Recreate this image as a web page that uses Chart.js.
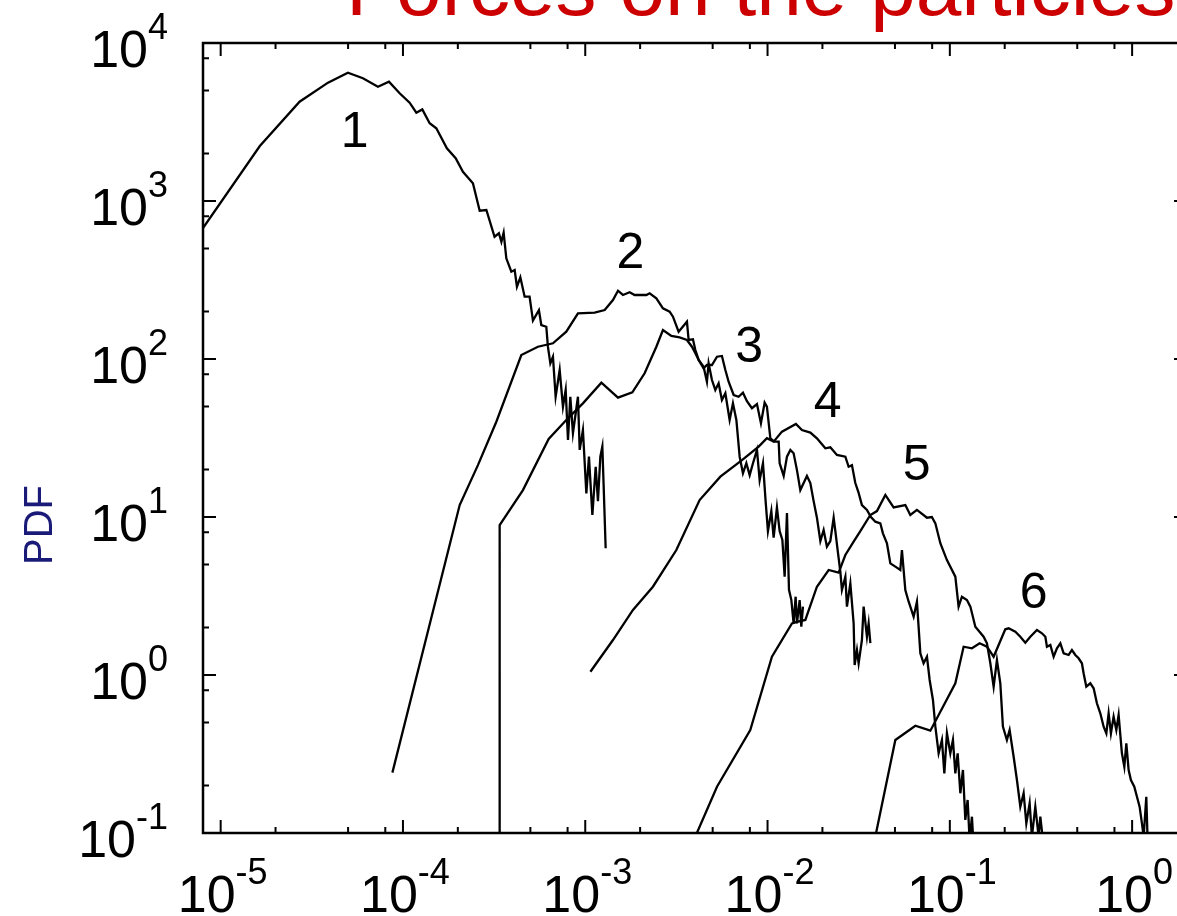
<!DOCTYPE html>
<html>
<head>
<meta charset="utf-8">
<title>Forces on the particles</title>
<script src="https://cdn.jsdelivr.net/npm/chart.js@4.4.1/dist/chart.umd.min.js"></script>
<style>
  html, body { margin: 0; padding: 0; background: #fff; overflow: hidden; }
  #wrap { width: 1177px; height: 916px; overflow: hidden; position: relative; }
  canvas { display: block; }
</style>
</head>
<body>
<div id="wrap"><canvas id="pdfChart" width="1200" height="916"></canvas></div>
<script>
  // ── Data: [force, PDF] pairs, one array per curve ──
  const curve1 = [[8e-6,675],[1.64e-5,2228],[2.71e-5,4251],[3.88e-5,5610],[4.99e-5,6486],[6.03e-5,5984],
    [7.29e-5,5290],[8.38e-5,5690],[9.59e-5,4810],[1.088e-4,4190],[1.184e-4,3620],[1.277e-4,3800],
    [1.401e-4,3105],[1.524e-4,2885],[1.742e-4,2156],[1.946e-4,1864],[2.133e-4,1532],[2.42e-4,1294],
    [2.636e-4,868],[2.868e-4,877],[3.18e-4,594],[3.36e-4,625],[3.467e-4,552],[3.567e-4,630],
    [3.69e-4,434],[3.93e-4,357],[4.10e-4,366],[4.22e-4,287],[4.405e-4,329],[4.65e-4,248],
    [4.95e-4,248],[5.165e-4,175],[5.57e-4,204],[5.74e-4,164],[6.115e-4,160],[6.24e-4,119.7],
    [6.435e-4,93.9],[6.65e-4,103.4],[6.88e-4,57.7],[7.24e-4,85.2],[7.545e-4,49.9],[7.81e-4,63.7],
    [8.04e-4,30.7],[8.28e-4,57.7],[8.56e-4,33.9],[9.12e-4,57.7],[9.32e-4,26.6],[9.71e-4,35.5],
    [1.014e-3,14.1],[1.048e-3,24.1],[1.094e-3,10.3],[1.141e-3,20.8],[1.174e-3,12.6],[1.21e-3,24.1],
    [1.241e-3,27.9],[1.262e-3,15.6],[1.294e-3,6.34]];

  const curve2 = [[8.75e-5,0.241],[2.047e-4,11.9],[2.578e-4,21.3],[3.253e-4,40.1],[4.46e-4,106],
    [5.50e-4,119.6],[6.65e-4,125.7],[7.87e-4,148.9],[9.12e-4,194.6],[1.126e-3,196.3],[1.278e-3,204.2],
    [1.419e-3,236.3],[1.512e-3,270.5],[1.61e-3,254.2],[1.752e-3,264.4],[1.866e-3,254.2],[2.164e-3,254.2],
    [2.256e-3,260.5],[2.455e-3,242.3],[2.668e-3,209.4],[2.904e-3,199.3],[3.028e-3,185.3],[3.252e-3,148.9],
    [3.613e-3,172.2],[3.691e-3,131.9],[3.897e-3,133.3],[4.018e-3,114.0],[4.189e-3,98.6],[4.46e-3,89.4],
    [4.65e-3,71.8],[4.75e-3,93.9],[4.955e-3,73.6],[5.17e-3,63.7],[5.39e-3,70.2],[5.62e-3,55.0],
    [5.87e-3,60.7],[6.195e-3,41.1],[6.46e-3,52.4],[6.745e-3,41.1],[7.03e-3,24.1],[7.33e-3,18.9],
    [7.65e-3,21.9],[7.98e-3,18.4],[8.32e-3,21.9],[8.75e-3,26.6],[9.05e-3,17.1],[9.44e-3,21.9],
    [9.76e-3,12.6],[1.005e-2,8.14],[1.049e-2,10.9],[1.08e-2,7.40],[1.126e-2,11.5],[1.165e-2,8.14],
    [1.206e-2,7.15],[1.241e-2,4.19],[1.278e-2,10.6],[1.311e-2,3.46],[1.351e-2,2.98],[1.39e-2,2.12],
    [1.426e-2,3.13],[1.45e-2,2.12],[1.50e-2,2.98],[1.532e-2,2.02],[1.564e-2,2.71]];

  const curve3 = [[3.392e-4,0.08],[3.392e-4,8.90],[4.552e-4,14.8],[6.30e-4,31.2],[7.87e-4,41.1],
    [9.71e-4,52.4],[1.226e-3,70.8],[1.512e-3,56.9],[1.813e-3,61.5],[2.117e-3,81.2],[2.455e-3,119.6],
    [2.668e-3,152.6],[2.967e-3,139.8],[3.294e-3,137.2],[3.613e-3,131.9],[3.848e-3,119.6],[4.018e-3,108.7],
    [4.189e-3,98.6],[4.46e-3,87.3],[4.65e-3,91.6],[4.955e-3,91.6],[5.28e-3,103.4],[5.62e-3,104.5],
    [5.87e-3,85.2],[6.116e-3,71.8],[6.52e-3,59.2],[6.94e-3,57.7],[7.33e-3,61.2],[7.71e-3,54.1],
    [8.21e-3,48.8],[8.75e-3,51.9],[9.20e-3,39.2],[9.64e-3,52.9],[9.92e-3,49.9],[1.036e-2,31.5],
    [1.09e-2,30.0],[1.151e-2,30.0],[1.165e-2,21.9],[1.226e-2,18.2],[1.278e-2,24.1],[1.334e-2,26.6],
    [1.39e-2,25.3],[1.45e-2,19.8],[1.513e-2,14.8],[1.578e-2,16.4],[1.645e-2,18.2],[1.717e-2,16.4],
    [1.79e-2,12.6],[1.866e-2,9.90],[1.949e-2,7.04],[2.031e-2,8.27],[2.117e-2,6.49],[2.21e-2,7.04],
    [2.305e-2,9.90],[2.355e-2,8.14],[2.424e-2,6.18],[2.508e-2,4.51],[2.559e-2,3.45],[2.672e-2,4.19],
    [2.726e-2,2.71],[2.846e-2,3.80],[2.967e-2,2.12],[3.005e-2,1.157],[3.094e-2,1.44],[3.16e-2,1.186],
    [3.294e-2,1.665],[3.366e-2,2.71],[3.51e-2,1.747],[3.586e-2,2.12],[3.664e-2,1.59]];

  const curve4 = [[1.067e-3,1.049],[1.419e-3,1.665],[1.827e-3,2.58],[2.351e-3,3.62],[3.16e-3,6.18],
    [4.24e-3,12.8],[5.51e-3,18.0],[7.24e-3,22.9],[8.94e-3,27.9],[9.92e-3,31.5],[1.08e-2,30.0],
    [1.2e-2,34.7],[1.431e-2,38.8],[1.544e-2,35.5],[1.717e-2,34.2],[1.866e-2,31.5],[2.075e-2,27.2],
    [2.21e-2,27.6],[2.403e-2,24.7],[2.672e-2,24.1],[2.785e-2,20.8],[2.904e-2,21.3],[3.031e-2,16.4],
    [3.16e-2,14.2],[3.294e-2,11.9],[3.51e-2,11.1],[3.692e-2,10.0],[3.903e-2,9.34],[4.157e-2,9.12],
    [4.295e-2,7.88],[4.519e-2,6.82],[4.717e-2,5.09],[5.024e-2,4.85],[5.35e-2,4.62],[5.46e-2,6.18],
    [5.70e-2,3.45],[5.94e-2,2.92],[6.33e-2,2.34],[6.60e-2,2.91],[6.89e-2,1.372],[7.18e-2,1.186],
    [7.49e-2,1.305],[7.75e-2,0.930],[8.08e-2,0.695],[8.33e-2,0.471],[8.68e-2,0.3195],[9.05e-2,0.388],
    [9.33e-2,0.2386],[9.64e-2,0.4276],[0.1006,0.3195],[0.104,0.388],[0.1072,0.2386],[0.1104,0.3195],
    [0.1142,0.1784],[0.118,0.2505],[0.1216,0.1209],[0.1252,0.1618],[0.1284,0.09],[0.1322,0.1268],
    [0.1352,0.08]];

  const curve5 = [[4.018e-3,0.095],[5.28e-3,0.1963],[8.04e-3,0.4485],[1.057e-2,1.305],[1.361e-2,2.12],
    [1.45e-2,2.17],[1.612e-2,2.23],[1.866e-2,3.62],[2.164e-2,4.62],[2.455e-2,4.44],[2.672e-2,5.75],
    [2.967e-2,6.98],[3.229e-2,8.14],[3.664e-2,10.3],[3.982e-2,10.9],[4.428e-2,13.8],[4.916e-2,11.5],
    [5.70e-2,11.9],[6.07e-2,10.3],[6.60e-2,11.1],[7.49e-2,9.90],[7.97e-2,10.0],[8.33e-2,9.12],
    [8.87e-2,6.82],[9.64e-2,5.34],[0.1072,4.19],[0.1117,2.71],[0.1165,3.13],[0.1241,2.98],
    [0.1296,2.71],[0.138,2.02],[0.1532,1.747],[0.1598,1.587],[0.1668,1.186],[0.1739,0.843],
    [0.1813,1.244],[0.1892,0.886],[0.1955,0.471],[0.2056,0.388],[0.2128,0.4485],[0.2239,0.304],
    [0.2334,0.2165],[0.2436,0.1467],[0.254,0.1784],[0.2628,0.1151],[0.274,0.1542],[0.282,0.095],
    [0.2944,0.1467],[0.3069,0.095],[0.3136,0.1268],[0.3242,0.09]];

  const curve6 = [[3.903e-2,0.095],[5.024e-2,0.388],[6.47e-2,0.4776],[7.82e-2,0.444],[0.1072,0.886],
    [0.119,1.51],[0.1322,1.476],[0.1457,1.587],[0.1598,1.51],[0.1739,1.305],[0.2015,1.946],
    [0.2102,1.975],[0.2287,1.879],[0.2436,1.747],[0.2595,1.601],[0.2764,1.747],[0.3005,1.926],
    [0.3201,1.836],[0.3342,1.747],[0.3410,1.51],[0.3559,1.548],[0.371,1.305],[0.3869,1.476],
    [0.4039,1.587],[0.4211,1.372],[0.4484,1.339],[0.4675,1.44],[0.488,1.339],[0.5087,1.276],
    [0.5303,1.186],[0.5418,1.025],[0.5606,0.843],[0.5897,0.886],[0.615,0.824],[0.641,0.6622],
    [0.669,0.5725],[0.6978,0.471],[0.7219,0.4276],[0.7432,0.5725],[0.7651,0.4276],[0.7916,0.5446],
    [0.819,0.4485],[0.8432,0.558],[0.879,0.3195],[0.9063,0.2628],[0.9294,0.3695],[0.9568,0.2505],
    [0.9849,0.2165],[1.028,0.1963],[1.063,0.1697],[1.099,0.1467],[1.132,0.1151],[1.157,0.095],
    [1.196,0.1697],[1.216,0.09]];

  const curves = [curve1, curve2, curve3, curve4, curve5, curve6];

  // curve numbers written next to each peak (data coords of the digit's baseline centre)
  const curveNames = ["1", "2", "3", "4", "5", "6"];
  const nameX = [5.43e-5, 1.77e-3, 7.92e-3, 2.14e-2, 6.58e-2, 0.288];
  const nameY = [2200, 377, 95.7, 43.0, 17.1, 2.65];

  // axes
  const xMin = 8e-6, xMax = 2;
  const yMin = 0.1, yMax = 1e4;
  const xMajor = [1e-5, 1e-4, 1e-3, 1e-2, 1e-1, 1];
  const xExp = ["-5", "-4", "-3", "-2", "-1", "0"];
  const yMajor = [0.1, 1, 10, 100, 1000, 10000];
  const yExp = ["-1", "0", "1", "2", "3", "4"];
  const minorFactors = [2, 5, 8];

  const FONT = '"Liberation Sans", Arial, Helvetica, sans-serif';

  // ── "10" with a raised exponent ────────────────────────────────────────
  function drawPower(ctx, exp, x, y, align) {
    ctx.font = '52px ' + FONT;
    const wm = ctx.measureText('10').width;
    ctx.font = '36px ' + FONT;
    const ws = ctx.measureText(exp).width;
    const x0 = align === 'right' ? x - wm - ws : x - (wm + ws) / 2;
    ctx.textAlign = 'left';
    ctx.textBaseline = 'alphabetic';
    ctx.font = '52px ' + FONT;
    ctx.fillText('10', x0, y);
    ctx.font = '36px ' + FONT;
    ctx.fillText(exp, x0 + wm, y - 28);
  }

  // Frame, inward ticks on all four sides, tick labels and texts
  const decorations = {
    id: 'decorations',
    afterDraw(chart) {
      const ctx = chart.ctx;
      const xs = chart.scales.x, ys = chart.scales.y;
      const a = chart.chartArea;
      ctx.save();
      ctx.strokeStyle = '#000';
      ctx.fillStyle = '#000';

      ctx.lineWidth = 2;
      ctx.beginPath();
      const xTick = (v, len) => {
        const px = xs.getPixelForValue(v);
        if (px <= a.left + 1 || px >= a.right - 1) return;
        ctx.moveTo(px, a.bottom); ctx.lineTo(px, a.bottom - len);
        ctx.moveTo(px, a.top); ctx.lineTo(px, a.top + len);
      };
      const yTick = (v, len) => {
        const py = ys.getPixelForValue(v);
        if (py <= a.top + 1 || py >= a.bottom - 1) return;
        ctx.moveTo(a.left, py); ctx.lineTo(a.left + len, py);
        ctx.moveTo(a.right, py); ctx.lineTo(a.right - len, py);
      };
      [1e-6].concat(xMajor).forEach(d => {
        xTick(d, 13);
        minorFactors.forEach(f => xTick(d * f, 6));
      });
      yMajor.forEach(d => {
        yTick(d, 13);
        minorFactors.forEach(f => yTick(d * f, 6));
      });
      ctx.stroke();

      ctx.lineWidth = 2.5;
      ctx.strokeRect(a.left, a.top, a.right - a.left, a.bottom - a.top);

      xMajor.forEach((v, i) => drawPower(ctx, xExp[i], xs.getPixelForValue(v) + 2, 912, 'center'));
      yMajor.forEach((v, i) => drawPower(ctx, yExp[i], 168, ys.getPixelForValue(v) + 24, 'right'));

      // curve numbers
      ctx.font = '50px ' + FONT;
      ctx.textAlign = 'center';
      ctx.textBaseline = 'alphabetic';
      curveNames.forEach((n, i) => {
        ctx.fillText(n, xs.getPixelForValue(nameX[i]), ys.getPixelForValue(nameY[i]));
      });

      // title, cut by the top edge like in the original
      ctx.fillStyle = '#cc0000';
      ctx.font = '82px ' + FONT;
      ctx.textAlign = 'left';
      ctx.fillText('Forces on the particles', 346, 15);

      // y axis title
      ctx.fillStyle = '#1a1a78';
      ctx.font = '40px ' + FONT;
      ctx.translate(52, 525);
      ctx.rotate(-Math.PI / 2);
      ctx.textAlign = 'center';
      ctx.fillText('PDF', 0, 0);
      ctx.restore();
    }
  };

  new Chart(document.getElementById('pdfChart').getContext('2d'), {
    type: 'line',
    data: {
      datasets: curves.map((c, i) => ({
        label: curveNames[i],
        data: c.map(p => ({ x: p[0], y: p[1] })),
        borderColor: '#000',
        borderWidth: 2.3,
        pointRadius: 0,
        tension: 0,
        fill: false
      }))
    },
    options: {
      responsive: false,
      animation: false,
      layout: { padding: { left: 203, right: 13, top: 43, bottom: 83 } },
      plugins: { legend: { display: false }, tooltip: { enabled: false } },
      scales: {
        x: { type: 'logarithmic', min: xMin, max: xMax, display: false },
        y: { type: 'logarithmic', min: yMin, max: yMax, display: false }
      }
    },
    plugins: [decorations]
  });
</script>
</body>
</html>
